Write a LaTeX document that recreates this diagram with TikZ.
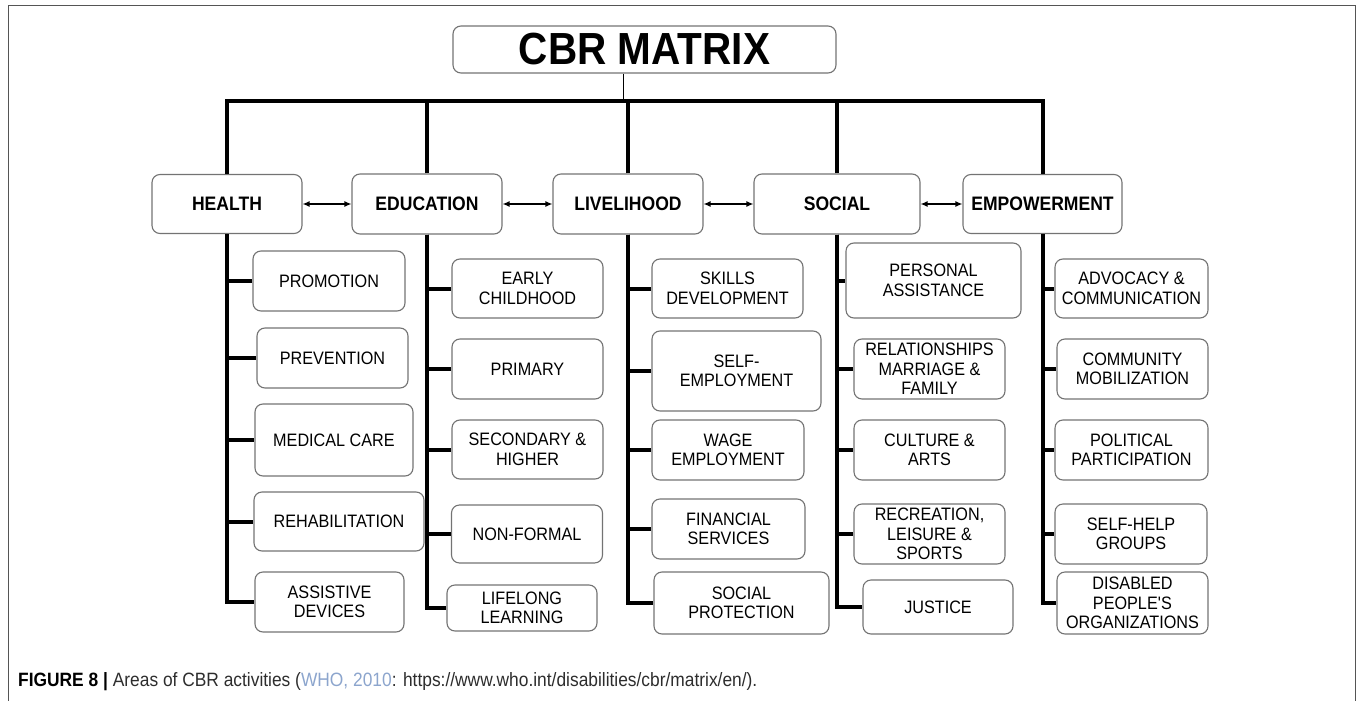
\documentclass[tikz,border=0pt]{standalone}
\usepackage{fontspec}
\setmainfont{Liberation Sans}[FakeStretch=0.9]
\usetikzlibrary{arrows.meta}

\definecolor{boxgray}{RGB}{115,115,115}
\definecolor{framegray}{RGB}{85,85,85}
\definecolor{capgray}{RGB}{45,45,45}
\definecolor{reflink}{RGB}{140,165,205}

\begin{document}
\begin{tikzpicture}[x=1pt, y=-1pt,
    every node/.style={font=\fontsize{18}{19.5}\selectfont, align=center, inner sep=0pt},
    box/.style 2 args={draw=boxgray, line width=1.1pt, rounded corners=8pt,
        minimum width=#1, minimum height=#2},
    cat/.style={font=\fontsize{19.5}{21}\selectfont\bfseries},
    trunk/.style={line width=4pt},
    pair/.style={line width=1.3pt, {Latex[length=7pt,width=6pt]}-{Latex[length=7pt,width=6pt]}}]
    \useasboundingbox (0,0) rectangle (1357,701);

    % Frame
    \draw[framegray, line width=1pt] (8,701) -- (8,6) -- (1355,6) -- (1355,701);

    % Title
    \node[box={383}{47}, font=\fontsize{45}{50}\selectfont\bfseries] (title) at (644.5,49.5) {CBR MATRIX};
    \coordinate (bus) at (0,101);

    % Areas
    \node[box={150}{59}, cat] (health) at (227,204) {HEALTH};
    \node[box={150}{60}, cat] (edu) at (427,204) {EDUCATION};
    \node[box={150}{60}, cat] (liveli) at (628,204) {LIVELIHOOD};
    \node[box={166}{60}, cat] (social) at (837,204) {SOCIAL};
    \node[box={159}{59}, cat] (empow) at (1042.5,204) {EMPOWERMENT};

    % Health
    \node[box={152}{60}] (promo) at (329,281) {PROMOTION};
    \node[box={151}{60}] (prev) at (332.5,358) {PREVENTION};
    \node[box={158}{72}] (medcare) at (334,440) {MEDICAL CARE};
    \node[box={170}{59}] (rehab) at (339,521.5) {REHABILITATION};
    \node[box={149}{60}] (assist) at (329.5,602) {ASSISTIVE\\DEVICES};

    % Education
    \node[box={151}{59}] (early) at (527.5,288.5) {EARLY\\CHILDHOOD};
    \node[box={151}{60}] (primary) at (527.5,369) {PRIMARY};
    \node[box={151}{59}] (second) at (527.5,449.5) {SECONDARY \&\\HIGHER};
    \node[box={151}{58}] (nonformal) at (527,534) {NON-FORMAL};
    \node[box={150}{46}] (lifelong) at (522,608) {LIFELONG\\LEARNING};

    % Livelihood
    \node[box={151}{59}] (skills) at (727.5,288.5) {SKILLS\\DEVELOPMENT};
    \node[box={169}{80}] (selfemp) at (736.5,371) {SELF-\\EMPLOYMENT};
    \node[box={152}{60}] (wage) at (728,450) {WAGE\\EMPLOYMENT};
    \node[box={153}{60}] (finance) at (728.5,529) {FINANCIAL\\SERVICES};
    \node[box={175}{62}] (socprot) at (741.5,603) {SOCIAL\\PROTECTION};

    % Social
    \node[box={175}{75}] (personal) at (933.5,280.5) {PERSONAL\\ASSISTANCE};
    \node[box={151}{60}] (relation) at (929.5,369) {RELATIONSHIPS\\MARRIAGE \&\\FAMILY};
    \node[box={151}{60}] (culture) at (929.5,450) {CULTURE \&\\ARTS};
    \node[box={151}{60}] (leisure) at (929.5,534) {RECREATION,\\LEISURE \&\\SPORTS};
    \node[box={150}{54}] (justice) at (938,607) {JUSTICE};

    % Empowerment
    \node[box={153}{59}] (advocacy) at (1131.5,288.5) {ADVOCACY \&\\COMMUNICATION};
    \node[box={151}{60}] (mobil) at (1132.5,369) {COMMUNITY\\MOBILIZATION};
    \node[box={153}{60}] (politic) at (1131.5,450) {POLITICAL\\PARTICIPATION};
    \node[box={152}{60}] (selfhelp) at (1131,534) {SELF-HELP\\GROUPS};
    \node[box={151}{62}] (dpo) at (1132.5,603) {DISABLED\\PEOPLE\textquotesingle S\\ORGANIZATIONS};

    % Bus and trunks
    \draw[line width=1.3pt] ([xshift=-21pt]title.south) -- ([xshift=-21pt]title.south |- bus);
    \draw[trunk] (health.north) -- (health.north |- bus) -- (empow.north |- bus) -- (empow.north);
    \foreach \area in {edu,liveli,social}
        \draw[trunk] (\area.north) -- (\area.north |- bus);

    \foreach \item in {promo,prev,medcare,rehab,assist}
        \draw[trunk] (health.south) |- (\item.west);
    \foreach \item in {early,primary,second,nonformal,lifelong}
        \draw[trunk] (edu.south) |- (\item.west);
    \foreach \item in {skills,selfemp,wage,finance,socprot}
        \draw[trunk] (liveli.south) |- (\item.west);
    \foreach \item in {personal,relation,culture,leisure,justice}
        \draw[trunk] (social.south) |- (\item.west);
    \foreach \item in {advocacy,mobil,politic,selfhelp,dpo}
        \draw[trunk] (empow.south) |- (\item.west);

    % Links between areas
    \draw[pair] (health.east) -- (edu.west);
    \draw[pair] (edu.east) -- (liveli.west);
    \draw[pair] (liveli.east) -- (social.west);
    \draw[pair] (social.east) -- (empow.west);

    % Caption
    \node[anchor=base west, font=\fontsize{19.3}{21}\selectfont, text=capgray] (caption) at (18,686)
        {\textcolor{black}{\textbf{FIGURE 8 |}} Areas of CBR activities (\textcolor{reflink}{WHO, 2010}: https://www.who.int/disabilities/cbr/matrix/en/).};
\end{tikzpicture}
\end{document}
